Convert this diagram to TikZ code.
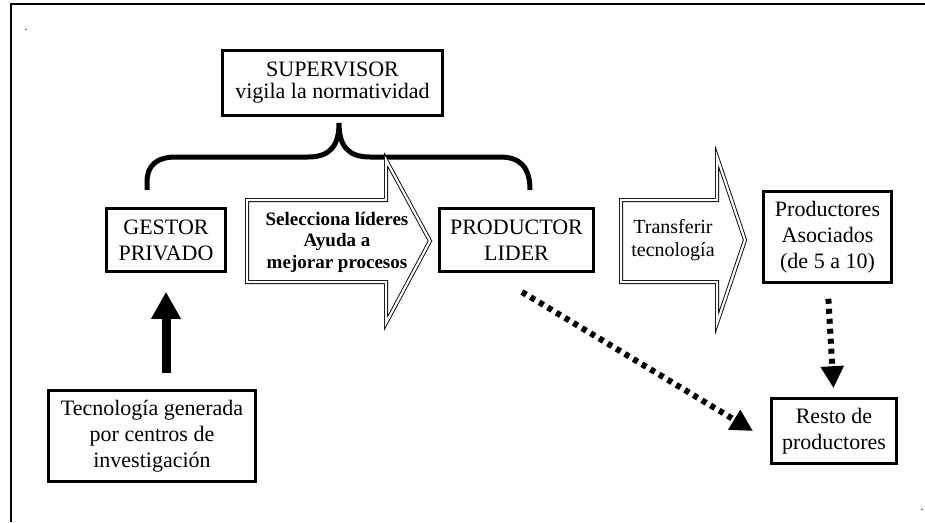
\documentclass[tikz,border=0pt]{standalone}
\usepackage{fontspec}
\setmainfont{Liberation Serif}
\usetikzlibrary{arrows.meta}
\begin{document}
\begin{tikzpicture}[x=1pt,y=-1pt,
  box/.style={draw, line width=2.6pt, align=center, inner sep=0pt, font=\fontsize{22}{26}\selectfont},
  bigarrow/.style={draw, double, double distance=2.2pt, line width=0.9pt, line join=miter},
  dotline/.style={line width=6pt, dash pattern=on 5pt off 5pt, -{Triangle[width=22pt,length=22pt]}},
  brace/.style={line width=5pt},
  frame/.style={line width=1.2pt},
  tiny/.style={font=\fontsize{12}{12}\selectfont, inner sep=0pt}
]
\useasboundingbox (0,0) rectangle (925,522);
% frame
\draw[frame] (925,4) -- (11,4) -- (11,522);
\node[tiny] (dotA) at (26,30) {.};
\node[tiny] (dotB) at (922,510) {.};
% boxes
\node[box, minimum width=220pt, minimum height=65pt, font=\fontsize{22}{22}\selectfont] (sup) at (332.5,83) {SUPERVISOR\\vigila la normatividad};
\node[box, minimum width=119pt, minimum height=63pt] (gestor) at (166,240) {GESTOR\\PRIVADO};
\node[box, minimum width=154pt, minimum height=63pt] (lider) at (516.5,240) {PRODUCTOR\\LIDER};
\node[box, minimum width=128pt, minimum height=91pt] (asoc) at (827.5,237) {Productores\\Asociados\\(de 5 a 10)};
\node[box, minimum width=125pt, minimum height=65pt] (resto) at (834,431) {Resto de\\productores};
\node[box, minimum width=207pt, minimum height=91pt] (tec) at (152,436) {Tecnología generada\\por centros de\\investigación};
% brace
\draw[brace] (147,190) -- (147,182) .. controls (147,166) and (156,157) .. (176,157) -- (308,157)
  .. controls (330,157) and (339,146) .. (339,123)
  .. controls (339,146) and (348,157) .. (370,157) -- (500,157)
  .. controls (520,157) and (530,167) .. (530,190);
% big arrows
\draw[bigarrow] (247,200) -- (386,200) -- (386,160) -- (430,241) -- (386,323) -- (386,282) -- (247,282) -- cycle;
\node[align=center, inner sep=0pt, font=\bfseries\fontsize{19}{21.5}\selectfont] (sel) at (337,242) {Selecciona líderes\\Ayuda a\\mejorar procesos};
\draw[bigarrow] (621,200) -- (717,200) -- (717,157) -- (745,240) -- (717,323) -- (717,282) -- (621,282) -- cycle;
\node[align=center, inner sep=0pt, font=\fontsize{20}{23}\selectfont] (trans) at (673,240) {Transferir\\tecnología};
% thick arrow up
\draw[line width=9pt, -{Triangle[width=28pt,length=27pt]}, shorten <=16pt, shorten >=19pt] (tec.north -| gestor.south) -- (gestor.south);
% dotted arrows
\draw[dotline, shorten <=15pt, shorten >=9pt] (asoc.south) -- (resto.north);
\coordinate (dstart) at (522,292);
\coordinate (dend) at (753,431);
\draw[dotline] (dstart) -- (dend);
\end{tikzpicture}
\end{document}
